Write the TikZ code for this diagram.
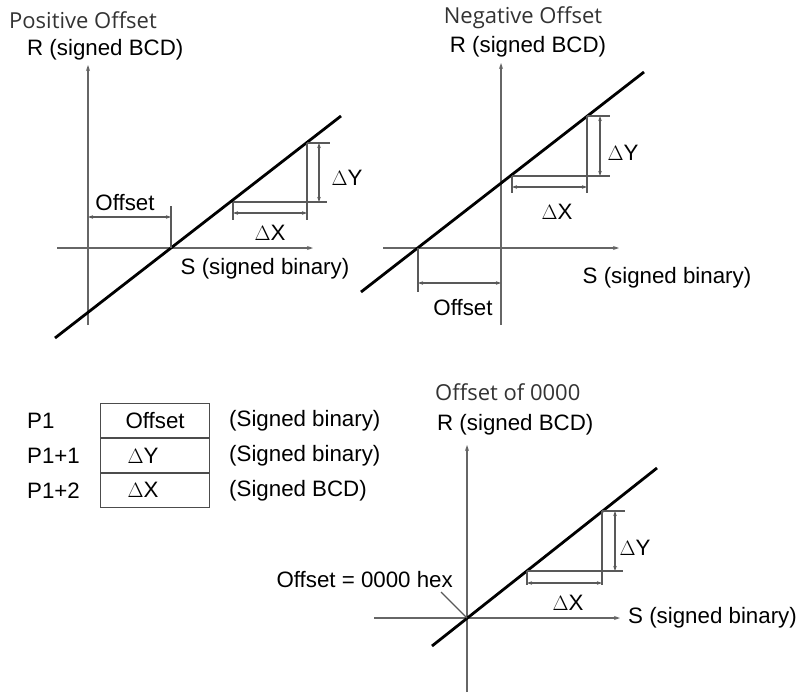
\documentclass[tikz,border=0pt]{standalone}
\usepackage{fontspec}
\setmainfont{Liberation Sans}
\newfontfamily\titlefont{Open Sans}
\usetikzlibrary{arrows.meta}
\begin{document}
\begin{tikzpicture}[x=1pt,y=-1pt,
  font=\fontsize{22.3}{25}\selectfont,
  axis/.style={draw=black!60, line width=1.4pt, -{Stealth[length=6pt,width=4pt]}},
  slope/.style={draw=black, line width=2.8pt},
  dimline/.style={draw=black!65, line width=1.2pt},
  dimarrow/.style={draw=black!65, line width=1.2pt, {Stealth[length=5pt,width=3.5pt]}-{Stealth[length=5pt,width=3.5pt]}},
  title/.style={font=\titlefont\fontsize{22}{25}\selectfont, text=black!80, inner sep=0pt},
  lbl/.style={inner sep=0pt},
  cell/.style={draw=black!70, line width=1.2pt, minimum width=109pt, minimum height=33.7pt, inner sep=0pt}]
\useasboundingbox (0,0) rectangle (800,693);

% positive offset
\node[title, anchor=west] (t1) at (9,20) {Positive Offset};
\node[lbl, anchor=west] (r1) at (27,50) {R (signed BCD)};
\node[lbl] (s1) at (265,269) {S (signed binary)};
\coordinate (a1b) at (88,325);
\coordinate (a1t) at (88,65);
\coordinate (a1l) at (57,248);
\coordinate (a1r) at (313,248);
\coordinate (l1s) at (55,338);
\coordinate (l1e) at (341,116);
\coordinate (z1) at (171,248);
\coordinate (p1a) at (233,202);
\coordinate (p1b) at (307,143);
\draw[axis] (a1b) -- (a1t);
\draw[axis] (a1l) -- (a1r);
\draw[slope] (l1s) -- (l1e);
\draw[dimline] (z1) -- (171,206);
\draw[dimarrow] (88,217) -- (171,217);
\node[lbl] (o1) at (125,203) {Offset};
\draw[dimline] (p1b) -- (307,220);
\draw[dimline] (p1b) -- (330,143);
\draw[dimline] (p1a) -- (327,202);
\draw[dimline] (p1a) -- (233,220);
\draw[dimarrow] (319,143) -- (319,202);
\draw[dimarrow] (233,213) -- (307,213);
\node[lbl] (dy1) at (347,178) {$\Delta$Y};
\node[lbl] (dx1) at (270,233) {$\Delta$X};

% negative offset
\node[title] (t2) at (523,18) {Negative Offset};
\node[lbl] (r2) at (528,47) {R (signed BCD)};
\node[lbl] (s2) at (667,278) {S (signed binary)};
\coordinate (a2b) at (501,325);
\coordinate (a2t) at (501,63);
\coordinate (a2l) at (383,248);
\coordinate (a2r) at (619,248);
\coordinate (l2s) at (361,292);
\coordinate (l2e) at (644,72);
\coordinate (z2) at (418,248);
\coordinate (p2a) at (512,176);
\coordinate (p2b) at (587,116);
\draw[axis] (a2b) -- (a2t);
\draw[axis] (a2l) -- (a2r);
\draw[slope] (l2s) -- (l2e);
\draw[dimline] (z2) -- (418,292);
\draw[dimarrow] (418,283) -- (501,283);
\node[lbl] (o2) at (463,308) {Offset};
\draw[dimline] (p2b) -- (587,193);
\draw[dimline] (p2b) -- (610,116);
\draw[dimline] (p2a) -- (610,176);
\draw[dimline] (p2a) -- (512,193);
\draw[dimarrow] (600,116) -- (600,176);
\draw[dimarrow] (512,187) -- (587,187);
\node[lbl] (dy2) at (623,153) {$\Delta$Y};
\node[lbl] (dx2) at (557,212) {$\Delta$X};

% parameter words
\coordinate (wl) at (27,0);
\coordinate (fl) at (229,0);
\node[cell, anchor=north west] (c1) at (100,403) {Offset};
\node[cell, anchor=north] (c2) at (c1.south) {\hspace*{-24pt}$\Delta$Y};
\node[cell, anchor=north] (c3) at (c2.south) {\hspace*{-24pt}$\Delta$X};
\node[lbl, anchor=west] (w1) at (wl |- c1) {P1};
\node[lbl, anchor=west] (w2) at (wl |- c2) {P1+1};
\node[lbl, anchor=west] (w3) at (wl |- c3) {P1+2};
\node[lbl, anchor=west] (f1) at (fl |- c1) {(Signed binary)};
\node[lbl, anchor=west] (f2) at (fl |- c2) {(Signed binary)};
\node[lbl, anchor=west] (f3) at (fl |- c3) {(Signed BCD)};

% offset of 0000
\node[title, anchor=west] (t3) at (435,392) {Offset of 0000};
\node[lbl, anchor=west] (r3) at (437,425) {R (signed BCD)};
\node[lbl, anchor=east] (s3) at (797,618) {S (signed binary)};
\coordinate (a3b) at (467,692);
\coordinate (a3t) at (467,445);
\coordinate (a3l) at (374,618);
\coordinate (a3r) at (620,618);
\coordinate (l3s) at (432,646);
\coordinate (l3e) at (657,468);
\coordinate (z3) at (467,618);
\coordinate (p3a) at (527,571);
\coordinate (p3b) at (602,511);
\draw[axis] (a3b) -- (a3t);
\draw[axis] (a3l) -- (a3r);
\draw[slope] (l3s) -- (l3e);
\draw[dimline] (p3b) -- (602,585);
\draw[dimline] (p3b) -- (625,511);
\draw[dimline] (p3a) -- (623,571);
\draw[dimline] (p3a) -- (527,585);
\draw[dimarrow] (615,511) -- (615,571);
\draw[dimarrow] (527,583) -- (602,583);
\node[lbl] (dy3) at (635,548) {$\Delta$Y};
\node[lbl] (dx3) at (568,603) {$\Delta$X};
\node[lbl, anchor=east] (zero) at (453,580) {Offset = 0000 hex};
\coordinate (lead) at (441,592);
\draw[dimline] (lead) -- (z3);
\end{tikzpicture}
\end{document}
